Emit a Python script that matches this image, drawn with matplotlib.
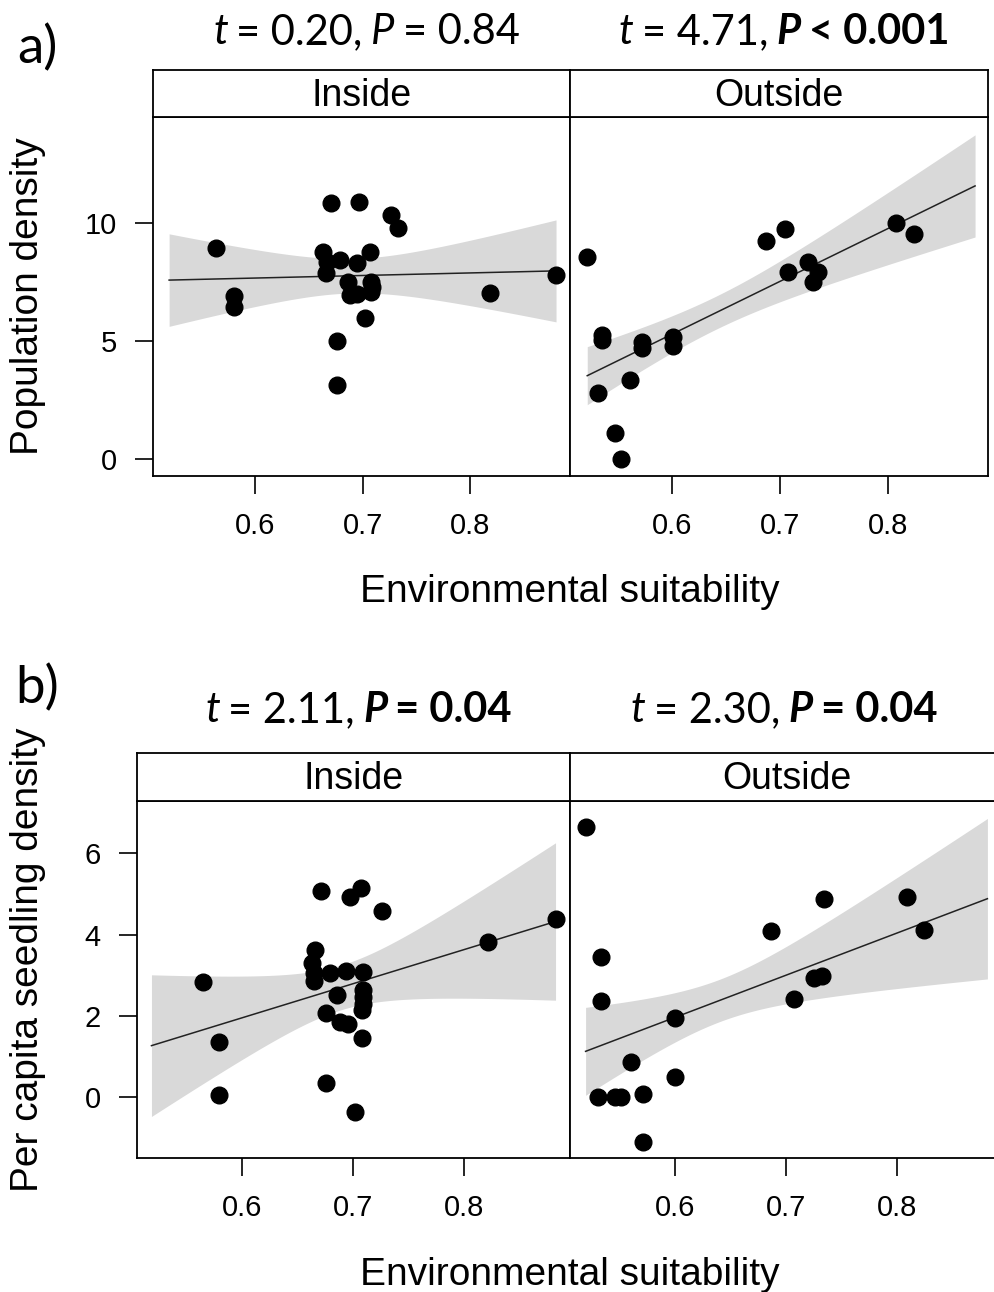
import numpy as np
import matplotlib.pyplot as plt
from matplotlib.offsetbox import TextArea, HPacker, AnchoredOffsetbox

W, H = 995, 1292

# panel a) population density
a_in_x = [0.564, 0.580, 0.580, 0.671, 0.697, 0.726, 0.733, 0.663, 0.667, 0.666, 0.679, 0.695,
          0.707, 0.686, 0.688, 0.695, 0.708, 0.709, 0.708, 0.702, 0.676, 0.676, 0.819, 0.880]
a_in_y = [8.93, 6.92, 6.45, 10.83, 10.90, 10.34, 9.78, 8.78, 8.36, 7.90, 8.43, 8.32,
          8.78, 7.51, 6.95, 6.99, 7.51, 7.30, 7.09, 5.96, 5.01, 3.12, 7.02, 7.81]
a_out_x = [0.521, 0.535, 0.535, 0.531, 0.561, 0.547, 0.552, 0.572, 0.572, 0.601, 0.601,
           0.687, 0.705, 0.707, 0.726, 0.735, 0.731, 0.808, 0.824]
a_out_y = [8.57, 5.25, 5.04, 2.81, 3.35, 1.09, -0.01, 4.97, 4.69, 5.18, 4.79,
           9.24, 9.73, 7.91, 8.36, 7.91, 7.51, 9.99, 9.52]

# panel b) per capita seedling density
b_in_x = [0.565, 0.580, 0.580, 0.671, 0.697, 0.707, 0.726, 0.666, 0.663, 0.665, 0.665, 0.679,
          0.694, 0.709, 0.686, 0.709, 0.709, 0.709, 0.708, 0.676, 0.688, 0.696, 0.708, 0.676,
          0.702, 0.821, 0.882]
b_in_y = [2.83, 1.37, 0.06, 5.07, 4.93, 5.14, 4.57, 3.61, 3.30, 3.05, 2.86, 3.05,
          3.11, 3.09, 2.52, 2.64, 2.47, 2.30, 2.15, 2.08, 1.86, 1.80, 1.45, 0.36,
          -0.35, 3.81, 4.39]
b_out_x = [0.520, 0.534, 0.534, 0.531, 0.546, 0.552, 0.561, 0.572, 0.572, 0.600, 0.600,
           0.687, 0.734, 0.707, 0.725, 0.732, 0.809, 0.824]
b_out_y = [6.63, 3.44, 2.37, 0.00, 0.00, 0.00, 0.86, 0.09, -1.09, 1.95, 0.49,
           4.09, 4.88, 2.42, 2.94, 2.97, 4.92, 4.12]

# fitted lines: x ends, y ends, band centre x, min half width, half width at left end
fit_a_in = ([0.520, 0.880], [7.58, 7.97], 0.69, 0.73, 1.96)
fit_a_out = ([0.521, 0.881], [3.53, 11.57], 0.64, 0.70, 1.23)
fit_b_in = ([0.519, 0.882], [1.27, 4.32], 0.69, 0.55, 1.74)
fit_b_out = ([0.520, 0.881], [1.13, 4.88], 0.64, 0.52, 1.08)

groups = ['Inside', 'Outside']
titles_a = [[('t', 'it'), ('= 0.20,', 'rm'), ('P', 'it'), ('= 0.84', 'rm')],
            [('t', 'it'), ('= 4.71,', 'rm'), ('P', 'bi'), ('< 0.001', 'bf')]]
titles_b = [[('t', 'it'), ('= 2.11,', 'rm'), ('P', 'bi'), ('= 0.04', 'bf')],
            [('t', 'it'), ('= 2.30,', 'rm'), ('P', 'bi'), ('= 0.04', 'bf')]]

xticks = [0.6, 0.7, 0.8]
yticks_a = [0, 5, 10]
yticks_b = [0, 2, 4, 6]

plt.rcParams['font.family'] = 'Liberation Sans'
fig = plt.figure(figsize=(W / 100, H / 100), dpi=100)


def box(x0, y0, x1, y1):
    return [x0 / W, 1 - y1 / H, (x1 - x0) / W, (y1 - y0) / H]


def draw_panel(ax, xs, ys, fit):
    fx, fy, xc, h0, hl = fit
    k = np.sqrt(hl ** 2 - h0 ** 2) / abs(fx[0] - xc)
    xx = np.linspace(fx[0], fx[1], 200)
    yy = fy[0] + (fy[1] - fy[0]) * (xx - fx[0]) / (fx[1] - fx[0])
    hw = np.sqrt(h0 ** 2 + (k * (xx - xc)) ** 2)
    ax.fill_between(xx, yy - hw, yy + hw, color='#d9d9d9', lw=0, zorder=1)
    ax.plot(xx, yy, color='#222222', lw=1.1, zorder=2)
    ax.plot(xs, ys, 'o', color='black', ms=12, mec='black', zorder=3)


def title(x, y, parts):
    styles = {'rm': dict(style='normal', weight='normal'),
              'it': dict(style='italic', weight='normal'),
              'bf': dict(style='normal', weight='bold'),
              'bi': dict(style='italic', weight='bold')}
    kids = [TextArea(s, textprops=dict(family='Lato', size=30, **styles[st])) for s, st in parts]
    hp = HPacker(children=kids, pad=0, sep=6, align='baseline')
    ab = AnchoredOffsetbox(loc='center', child=hp, pad=0, borderpad=0, frameon=False,
                           bbox_to_anchor=(x / W, 1 - y / H), bbox_transform=fig.transFigure)
    fig.add_artist(ab)


def make_row(lefts, right, plot_y, strip_y, xlim, ylim, yticks, data, fits, titles, title_y,
             ylabel, ylabel_y, xlabel_y, letter, letter_y):
    edges = [lefts, 570, right]
    for i in range(2):
        x0, x1 = edges[i], edges[i + 1]
        ax = fig.add_axes(box(x0, plot_y[0], x1, plot_y[1]))
        draw_panel(ax, data[i][0], data[i][1], fits[i])
        ax.set_xlim(xlim)
        ax.set_ylim(ylim)
        ax.set_xticks(xticks)
        ax.set_xticklabels([str(t) for t in xticks])
        ax.tick_params(axis='both', direction='out', length=13, width=1.2, pad=13, labelsize=21)
        if i == 0:
            ax.set_yticks(yticks)
        else:
            ax.set_yticks([])
        for sp in ax.spines.values():
            sp.set_linewidth(1.3)
        st = fig.add_axes(box(x0, strip_y[0], x1, strip_y[1]))
        st.set_xticks([])
        st.set_yticks([])
        for sp in st.spines.values():
            sp.set_linewidth(1.3)
        st.text(0.5, 0.45, groups[i], ha='center', va='center', fontsize=27, transform=st.transAxes)
        title((x0 + min(x1, 988)) / 2 + 5, title_y, titles[i])
    fig.text(28 / W, 1 - ylabel_y / H, ylabel, rotation=90, ha='center', va='center', fontsize=28)
    fig.text(570 / W, 1 - xlabel_y / H, 'Environmental suitability', ha='center', va='center', fontsize=28)
    fig.text(37 / W, 1 - letter_y / H, letter, ha='center', va='center', fontsize=38, family='Lato')


make_row(153, 988, (117, 476), (70, 117), (0.505, 0.893), (-0.72, 14.49), yticks_a,
         [(a_in_x, a_in_y), (a_out_x, a_out_y)], [fit_a_in, fit_a_out], titles_a, 32,
         'Population density', 296, 592, 'a)', 48)
make_row(137, 1003, (801, 1158), (753, 801), (0.506, 0.895), (-1.49, 7.28), yticks_b,
         [(b_in_x, b_in_y), (b_out_x, b_out_y)], [fit_b_in, fit_b_out], titles_b, 710,
         'Per capita seedling density', 960, 1275, 'b)', 688)

fig.savefig('out.png', dpi=100)
